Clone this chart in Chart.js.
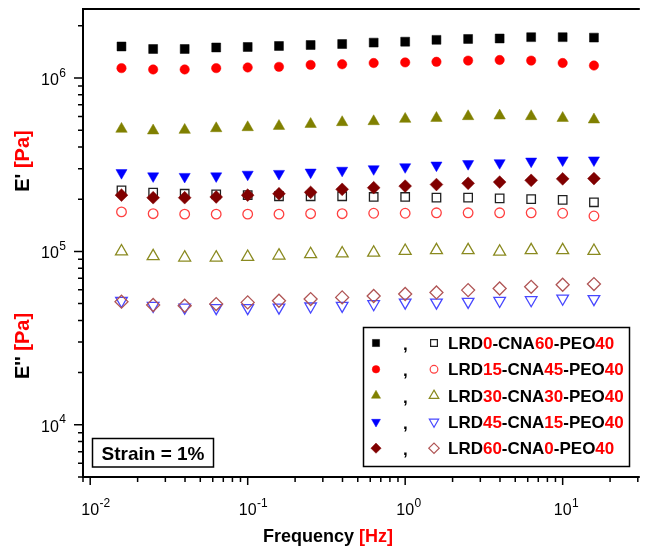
<!DOCTYPE html>
<html>
<head>
<meta charset="utf-8">
<script src="https://cdn.jsdelivr.net/npm/chart.js@4/dist/chart.umd.min.js"></script>
<style>
  html, body { margin: 0; padding: 0; background: #fff; overflow: hidden; }
  #wrap { width: 646px; height: 551px; position: relative; }
</style>
</head>
<body>
<div id="wrap"><canvas id="chart" width="646" height="551"></canvas></div>
<script>
// Oscillatory frequency sweep, Hz
const frequencies = [0.0158, 0.0251, 0.0398, 0.0631, 0.1, 0.158, 0.251, 0.398, 0.631, 1, 1.58, 2.51, 3.98, 6.31, 10, 15.8];

// Storage modulus E' (Pa)
const storageLRD0  = [1.52e6, 1.47e6, 1.47e6, 1.50e6, 1.51e6, 1.53e6, 1.55e6, 1.57e6, 1.60e6, 1.62e6, 1.66e6, 1.68e6, 1.69e6, 1.72e6, 1.72e6, 1.71e6];
const storageLRD15 = [1.14e6, 1.12e6, 1.12e6, 1.14e6, 1.15e6, 1.16e6, 1.19e6, 1.20e6, 1.22e6, 1.23e6, 1.24e6, 1.26e6, 1.27e6, 1.26e6, 1.22e6, 1.18e6];
const storageLRD30 = [5.08e5, 4.97e5, 5.01e5, 5.12e5, 5.19e5, 5.28e5, 5.42e5, 5.55e5, 5.62e5, 5.80e5, 5.87e5, 6.01e5, 6.06e5, 6.01e5, 5.87e5, 5.75e5];
const storageLRD45 = [2.84e5, 2.72e5, 2.70e5, 2.72e5, 2.78e5, 2.81e5, 2.86e5, 2.93e5, 2.99e5, 3.07e5, 3.14e5, 3.20e5, 3.24e5, 3.31e5, 3.36e5, 3.36e5];
const storageLRD60 = [2.11e5, 2.04e5, 2.04e5, 2.06e5, 2.11e5, 2.15e5, 2.19e5, 2.28e5, 2.33e5, 2.38e5, 2.43e5, 2.47e5, 2.51e5, 2.57e5, 2.62e5, 2.63e5];

// Loss modulus E'' (Pa)
const lossLRD0  = [2.25e5, 2.18e5, 2.15e5, 2.13e5, 2.11e5, 2.08e5, 2.08e5, 2.08e5, 2.06e5, 2.06e5, 2.04e5, 2.04e5, 2.02e5, 2.00e5, 1.98e5, 1.92e5];
const lossLRD15 = [1.69e5, 1.65e5, 1.64e5, 1.64e5, 1.64e5, 1.64e5, 1.65e5, 1.65e5, 1.66e5, 1.66e5, 1.67e5, 1.67e5, 1.67e5, 1.67e5, 1.66e5, 1.60e5];
const lossLRD30 = [1.00e5, 9.38e4, 9.21e4, 9.21e4, 9.30e4, 9.46e4, 9.64e4, 9.74e4, 9.84e4, 1.007e5, 1.016e5, 1.016e5, 9.97e4, 1.016e5, 1.016e5, 1.007e5];
const lossLRD45 = [5.19e4, 4.86e4, 4.75e4, 4.72e4, 4.72e4, 4.75e4, 4.82e4, 4.86e4, 4.97e4, 5.08e4, 5.08e4, 5.13e4, 5.19e4, 5.24e4, 5.35e4, 5.32e4];
const lossLRD60 = [5.13e4, 4.91e4, 4.86e4, 4.97e4, 5.08e4, 5.19e4, 5.31e4, 5.43e4, 5.53e4, 5.68e4, 5.80e4, 5.98e4, 6.11e4, 6.25e4, 6.42e4, 6.48e4];

// Blend compositions (wt%) for the legend labels
const lrdContent = [0, 15, 30, 45, 60];
const cnaContent = [60, 45, 30, 15, 0];
const peoContent = 40;

// Decade exponents labelled on each axis
const xTickExponents = [-2, -1, 0, 1];
const yTickExponents = [4, 5, 6];

const storageSeries = [storageLRD0, storageLRD15, storageLRD30, storageLRD45, storageLRD60];
const lossSeries = [lossLRD0, lossLRD15, lossLRD30, lossLRD45, lossLRD60];

// Marker styles per composition
const filledStyles = [
  { pointStyle: 'rect',     radius: 6.3, rotation: 0,   color: '#000000' },
  { pointStyle: 'circle',   radius: 4.7, rotation: 0,   color: '#ff0000' },
  { pointStyle: 'triangle', radius: 6.6, rotation: 0,   color: '#808000' },
  { pointStyle: 'triangle', radius: 6.4, rotation: 180, color: '#0000ff' },
  { pointStyle: 'rectRot',  radius: 6.4, rotation: 0,   color: '#800000' }
];
const openStyles = [
  { pointStyle: 'rect',     radius: 6.0, rotation: 0,   color: '#202020' },
  { pointStyle: 'circle',   radius: 4.8, rotation: 0,   color: '#ff4040' },
  { pointStyle: 'triangle', radius: 6.9, rotation: 0,   color: '#8a8a20' },
  { pointStyle: 'triangle', radius: 6.7, rotation: 180, color: '#4848ff' },
  { pointStyle: 'rectRot',  radius: 6.5, rotation: 0,   color: '#b05555' }
];

const RED = '#ff0000';
const FONT = '"Liberation Sans", Arial, Helvetica, sans-serif';

function toPoints(values) {
  return values.map((v, i) => ({ x: frequencies[i], y: v }));
}

function filledDataset(i) {
  const s = filledStyles[i];
  return {
    label: "E' LRD" + lrdContent[i],
    data: toPoints(storageSeries[i]),
    pointStyle: s.pointStyle, pointRadius: s.radius, pointRotation: s.rotation,
    backgroundColor: s.color, borderColor: s.color, borderWidth: 0.5,
    showLine: false
  };
}
function openDataset(i) {
  const s = openStyles[i];
  return {
    label: "E'' LRD" + lrdContent[i],
    data: toPoints(lossSeries[i]),
    pointStyle: s.pointStyle, pointRadius: s.radius, pointRotation: s.rotation,
    backgroundColor: 'rgba(255,255,255,0)', borderColor: s.color, borderWidth: 1.3,
    showLine: false
  };
}

// Earlier datasets are painted on top
const datasets = [0, 1, 2, 3, 4].map(filledDataset)
  .concat([4, 3, 2, 1, 0].map(openDataset));

function logTicks(min, max) {
  const out = [];
  const e0 = Math.floor(Math.log10(min)), e1 = Math.ceil(Math.log10(max));
  for (let e = e0; e <= e1; e++) {
    for (let m = 1; m <= 9; m++) {
      const v = m * Math.pow(10, e);
      if (v >= min * 0.99999 && v <= max * 1.00001) out.push({ v, major: m === 1 });
    }
  }
  return out;
}

// "10" with a raised exponent; anchor is either the centre of "10" or the right edge of the whole label
function drawPower(ctx, ax, baseline, exp, anchor) {
  const baseFont = '16px ' + FONT, supFont = '12px ' + FONT;
  ctx.font = baseFont;
  const w1 = ctx.measureText('10').width;
  ctx.font = supFont;
  const sup = String(exp);
  const w2 = ctx.measureText(sup).width;
  const x0 = anchor === 'center' ? ax - w1 / 2 : ax - w1 - w2 - 0.5;
  ctx.textAlign = 'left';
  ctx.textBaseline = 'alphabetic';
  ctx.font = baseFont;
  ctx.fillText('10', x0, baseline);
  ctx.font = supFont;
  ctx.fillText(sup, x0 + w1 + 0.5, baseline - 8.5);
}

// Multi-coloured text run starting at x
function drawRun(ctx, parts, x, baseline, font) {
  ctx.font = font;
  ctx.textAlign = 'left';
  ctx.textBaseline = 'alphabetic';
  for (const [text, color] of parts) {
    ctx.fillStyle = color;
    ctx.fillText(text, x, baseline);
    x += ctx.measureText(text).width;
  }
  return x;
}
function runWidth(ctx, parts, font) {
  ctx.font = font;
  return parts.reduce((w, [t]) => w + ctx.measureText(t).width, 0);
}

function drawMarker(ctx, style, filled, x, y, scale) {
  ctx.save();
  ctx.fillStyle = filled ? style.color : 'rgba(255,255,255,0)';
  ctx.strokeStyle = style.color;
  ctx.lineWidth = filled ? 0.5 : 1.2;
  Chart.helpers.drawPoint(ctx, {
    pointStyle: style.pointStyle,
    radius: style.radius * scale,
    rotation: style.rotation,
    borderWidth: ctx.lineWidth
  }, x, y);
  ctx.restore();
}

const framePlugin = {
  id: 'frame',
  beforeDatasetsDraw(chart) {
    const { ctx, chartArea: a, scales: { x: xs, y: ys } } = chart;
    ctx.save();
    ctx.strokeStyle = '#000';
    ctx.lineWidth = 1.5;
    ctx.beginPath();
    for (const t of logTicks(xs.min, xs.max)) {
      const px = xs.getPixelForValue(t.v);
      ctx.moveTo(px, a.bottom);
      ctx.lineTo(px, a.bottom + (t.major ? 8 : 5));
    }
    for (const t of logTicks(ys.min, ys.max)) {
      const py = ys.getPixelForValue(t.v);
      ctx.moveTo(a.left, py);
      ctx.lineTo(a.left - (t.major ? 9 : 5), py);
    }
    ctx.stroke();

    ctx.lineWidth = 2;
    ctx.beginPath();
    ctx.moveTo(a.right + 2, a.top);
    ctx.lineTo(a.left, a.top);
    ctx.lineTo(a.left, a.bottom);
    ctx.lineTo(a.right + 2, a.bottom);
    ctx.stroke();

    ctx.fillStyle = '#000';
    for (const e of xTickExponents) {
      drawPower(ctx, xs.getPixelForValue(Math.pow(10, e)), a.bottom + 38, e, 'center');
    }
    for (const e of yTickExponents) {
      drawPower(ctx, a.left - 17, ys.getPixelForValue(Math.pow(10, e)) + 7, e, 'right');
    }

    // axis titles
    const titleFont = 'bold 18px ' + FONT;
    const xParts = [['Frequency ', '#000'], ['[Hz]', RED]];
    const xw = runWidth(ctx, xParts, titleFont);
    drawRun(ctx, xParts, 328 - xw / 2, 542, titleFont);

    const yFont = 'bold 20px ' + FONT;
    const yTitles = [
      { parts: [["E'", '#000'], [' ', '#000'], ['[Pa]', RED]], cy: 161 },
      { parts: [["E''", '#000'], [' ', '#000'], ['[Pa]', RED]], cy: 346 }
    ];
    for (const t of yTitles) {
      ctx.save();
      ctx.translate(29, t.cy);
      ctx.rotate(-Math.PI / 2);
      const w = runWidth(ctx, t.parts, yFont);
      drawRun(ctx, t.parts, -w / 2, 0, yFont);
      ctx.restore();
    }
    ctx.restore();
  },
  afterDatasetsDraw(chart) {
    const { ctx } = chart;
    ctx.save();

    // Legend box
    const box = { l: 363.5, t: 327.5, r: 629.5, b: 466.5 };
    ctx.fillStyle = '#fff';
    ctx.fillRect(box.l, box.t, box.r - box.l, box.b - box.t);
    ctx.strokeStyle = '#000';
    ctx.lineWidth = 1.5;
    ctx.strokeRect(box.l, box.t, box.r - box.l, box.b - box.t);

    const legendFont = 'bold 17px ' + FONT;
    for (let i = 0; i < lrdContent.length; i++) {
      const cy = 343 + i * 26.3;
      drawMarker(ctx, filledStyles[i], true, 376, cy, 0.8);
      drawMarker(ctx, openStyles[i], false, 434, cy, 0.8);
      drawRun(ctx, [[',', '#000']], 403, cy + 7, legendFont);
      const parts = [
        ['LRD', '#000'], [String(lrdContent[i]), RED],
        ['-CNA', '#000'], [String(cnaContent[i]), RED],
        ['-PEO', '#000'], [String(peoContent), RED]
      ];
      drawRun(ctx, parts, 448, cy + 6, legendFont);
    }

    // Strain annotation
    const sb = { l: 92.5, t: 438.5, r: 213.5, b: 467 };
    ctx.fillStyle = '#fff';
    ctx.fillRect(sb.l, sb.t, sb.r - sb.l, sb.b - sb.t);
    ctx.strokeStyle = '#000';
    ctx.lineWidth = 1.5;
    ctx.strokeRect(sb.l, sb.t, sb.r - sb.l, sb.b - sb.t);
    const sFont = 'bold 19px ' + FONT;
    const sParts = [['Strain = 1%', '#000']];
    const sw = runWidth(ctx, sParts, sFont);
    drawRun(ctx, sParts, (sb.l + sb.r) / 2 - sw / 2, (sb.t + sb.b) / 2 + 7, sFont);

    ctx.restore();
  }
};

new Chart(document.getElementById('chart'), {
  type: 'scatter',
  data: { datasets },
  options: {
    responsive: false,
    animation: false,
    devicePixelRatio: 1,
    events: [],
    layout: { padding: { left: 83, top: 9, right: 0, bottom: 74 } },
    scales: {
      x: { type: 'logarithmic', min: 0.009, max: 30, bounds: 'data', display: false },
      y: { type: 'logarithmic', min: 5000, max: 2.5e6, bounds: 'data', display: false }
    },
    plugins: { legend: { display: false }, tooltip: { enabled: false } }
  },
  plugins: [framePlugin]
});
</script>
</body>
</html>
